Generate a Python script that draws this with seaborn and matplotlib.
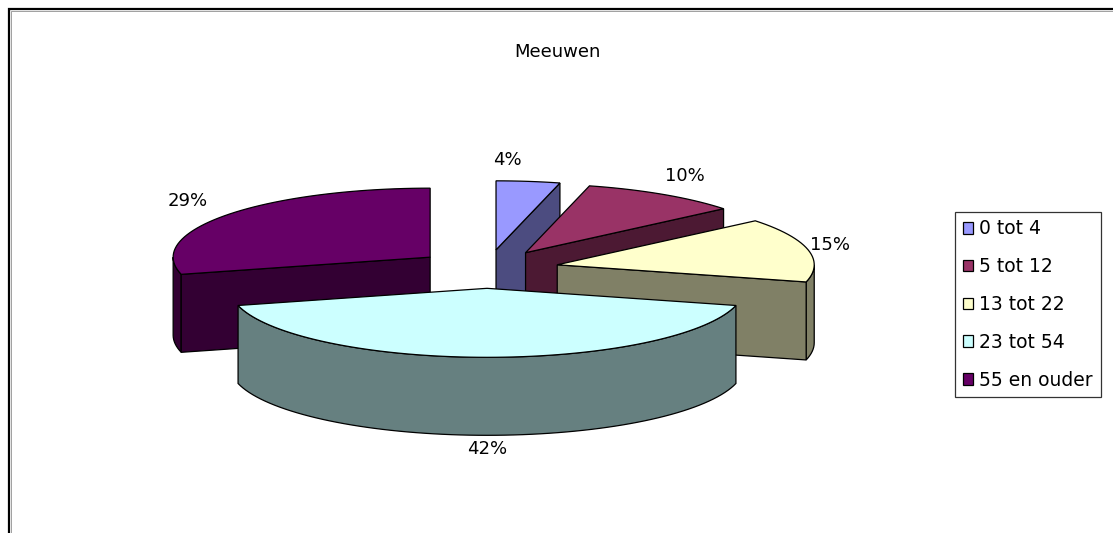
import numpy as np
import matplotlib
matplotlib.use("Agg")
import matplotlib.pyplot as plt
from matplotlib.patches import Polygon, Patch
import seaborn as sns

# chart data
title = "Meeuwen"
groups = ["0 tot 4", "5 tot 12", "13 tot 22", "23 tot 54", "55 en ouder"]
shares = [4, 10, 15, 42, 29]
top_colors = ["#9999FF", "#993366", "#FFFFCC", "#CCFFFF", "#660066"]
side_colors = ["#4C4C80", "#4C1933", "#808066", "#668080", "#330033"]

# geometry (pixel space of the 1113x533 canvas)
W, H = 1113, 533
CX, CY = 487, 269
RX, RY = 257, 69
DEPTH = 78
EXPLODE = 0.28


def pt(ox, oy, ang, r=1.0, dz=0.0):
    a = np.radians(ang)
    return ox + r * RX * np.sin(a), oy - r * RY * np.cos(a) + dz


def arc(ox, oy, a1, a2, dz=0.0):
    n = max(2, int(abs(a2 - a1) / 2) + 2)
    angs = np.linspace(a1, a2, n)
    return [pt(ox, oy, a, 1.0, dz) for a in angs]


sns.set_theme(style="white")
plt.rcParams["font.family"] = ["DejaVu Sans"]
plt.rcParams["text.color"] = "black"

fig = plt.figure(figsize=(W / 100, H / 100), dpi=100)
ax = fig.add_axes([0, 0, 1, 1])
ax.set_xlim(0, W)
ax.set_ylim(H, 0)
ax.axis("off")

fracs = np.array(shares) / sum(shares)
ends = np.cumsum(fracs) * 360
starts = ends - fracs * 360

slices = []
for i in range(len(shares)):
    t1, t2 = starts[i], ends[i]
    mid = (t1 + t2) / 2
    ox, oy = pt(CX, CY, mid, EXPLODE)
    slices.append((oy, i, t1, t2, mid, ox))

for oy, i, t1, t2, mid, ox in sorted(slices):
    kw = dict(edgecolor="black", linewidth=0.9, joinstyle="miter")
    # outer curved side, only the part facing the viewer
    a1, a2 = max(t1, 90), min(t2, 270)
    if a2 > a1:
        poly = arc(ox, oy, a1, a2) + arc(ox, oy, a1, a2, DEPTH)[::-1]
        ax.add_patch(Polygon(poly, facecolor=side_colors[i], **kw))
    # radial cut faces
    for ang, vis in ((t1, np.sin(np.radians(t1)) < -1e-6),
                     (t2, np.sin(np.radians(t2)) > 1e-6)):
        if vis:
            poly = [(ox, oy), pt(ox, oy, ang), pt(ox, oy, ang, 1, DEPTH),
                    (ox, oy + DEPTH)]
            ax.add_patch(Polygon(poly, facecolor=side_colors[i], **kw))
    # top face
    poly = [(ox, oy)] + arc(ox, oy, t1, t2)
    ax.add_patch(Polygon(poly, facecolor=top_colors[i], **kw))

    # percentage label
    s, c = np.sin(np.radians(mid)), np.cos(np.radians(mid))
    ly = oy - (RY + 22) * c + (DEPTH - 8) * max(0, -c)
    if s >= 0.3:
        ha, lx = "left", ox + RX * s + 2
    elif s <= -0.3:
        ha, lx = "right", ox + (RX + 25) * s
    else:
        ha, lx = "center", ox + RX * s * 0.35
    ax.text(lx, ly, f"{shares[i]}%", ha=ha, va="center", fontsize=13,
            color="black")

ax.text(557, 52, title, ha="center", va="center", fontsize=13, color="black")

# chart frame (top and left edges visible)
ax.plot([9, 9, W], [H, 9, 9], color="black", lw=1.6, solid_joinstyle="miter")
ax.plot([10.6, 10.6, W], [H, 10.6, 10.6], color="#A0A0A0", lw=0.7)

handles = [Patch(facecolor=col, edgecolor="black", linewidth=0.9)
           for col in sns.color_palette(top_colors)]
leg = ax.legend(handles, groups, loc="upper left",
                bbox_to_anchor=(955 / W, 1 - 212 / H), borderaxespad=0,
                fontsize=13.5, frameon=True, fancybox=False, shadow=False,
                handlelength=0.55, handleheight=0.55, handletextpad=0.35,
                labelspacing=1.0, borderpad=0.4, labelcolor="black")
leg.get_frame().set_edgecolor("black")
leg.get_frame().set_linewidth(0.9)

fig.savefig("out.png", dpi=100)
